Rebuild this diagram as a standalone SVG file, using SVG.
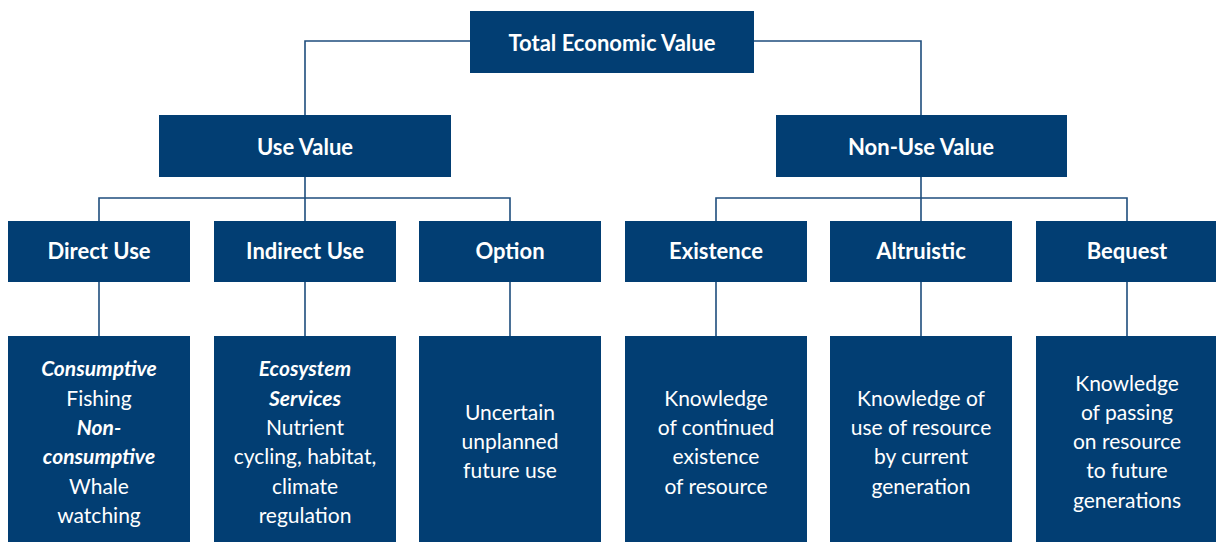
<svg xmlns="http://www.w3.org/2000/svg" width="1216" height="542" viewBox="0 0 1216 542">
<style>
.box{fill:#023e73}
.t{font-family:Lato,"Open Sans",sans-serif;fill:#fff;text-anchor:middle}
.h{font-size:22px;font-weight:bold}
.b{font-size:21px}
.bi{font-weight:bold;font-style:italic}
.c{fill:none;stroke:#1f4e7d;stroke-width:1.6}
</style>
<rect width="1216" height="542" fill="#fff"/>
<g id="connectors" class="c">
<path d="M470 41H305V115"/>
<path d="M754 41H921V115"/>
<path d="M305 177V221M99 221V198H510V221"/>
<path d="M921 177V221M716 221V198H1127V221"/>
<path d="M99 282V336M305 282V336M510 282V336M716 282V336M921 282V336M1127 282V336"/>
</g>
<g id="total"><rect class="box" x="470" y="11" width="284" height="62"/><text class="t h" x="612" y="51">Total Economic Value</text></g>
<g id="use"><rect class="box" x="159" y="115" width="292" height="62"/><text class="t h" x="305" y="155">Use Value</text></g>
<g id="nonuse"><rect class="box" x="776" y="115" width="291" height="62"/><text class="t h" x="921" y="155">Non-Use Value</text></g>
<g id="direct"><rect class="box" x="8" y="221" width="182" height="61"/><text class="t h" x="99" y="259">Direct Use</text></g>
<g id="indirect"><rect class="box" x="214" y="221" width="182" height="61"/><text class="t h" x="305" y="259">Indirect Use</text></g>
<g id="option"><rect class="box" x="419" y="221" width="182" height="61"/><text class="t h" x="510" y="259">Option</text></g>
<g id="existence"><rect class="box" x="625" y="221" width="182" height="61"/><text class="t h" x="716" y="259">Existence</text></g>
<g id="altruistic"><rect class="box" x="830" y="221" width="182" height="61"/><text class="t h" x="921" y="259">Altruistic</text></g>
<g id="bequest"><rect class="box" x="1036" y="221" width="182" height="61"/><text class="t h" x="1127" y="259">Bequest</text></g>
<g id="direct-desc"><rect class="box" x="8" y="336" width="182" height="206"/>
<text class="t b" x="99"><tspan class="bi" x="99" y="376">Consumptive</tspan><tspan x="99" y="406">Fishing</tspan><tspan class="bi" x="99" y="435">Non-</tspan><tspan class="bi" x="99" y="464">consumptive</tspan><tspan x="99" y="494">Whale</tspan><tspan x="99" y="523">watching</tspan></text></g>
<g id="indirect-desc"><rect class="box" x="214" y="336" width="182" height="206"/>
<text class="t b" x="305"><tspan class="bi" x="305" y="376">Ecosystem</tspan><tspan class="bi" x="305" y="406">Services</tspan><tspan x="305" y="435">Nutrient</tspan><tspan x="305" y="464">cycling, habitat,</tspan><tspan x="305" y="494">climate</tspan><tspan x="305" y="523">regulation</tspan></text></g>
<g id="option-desc"><rect class="box" x="419" y="336" width="182" height="206"/>
<text class="t b" x="510"><tspan x="510" y="420">Uncertain</tspan><tspan x="510" y="449">unplanned</tspan><tspan x="510" y="478">future use</tspan></text></g>
<g id="existence-desc"><rect class="box" x="625" y="336" width="182" height="206"/>
<text class="t b" x="716"><tspan x="716" y="406">Knowledge</tspan><tspan x="716" y="435">of continued</tspan><tspan x="716" y="464">existence</tspan><tspan x="716" y="494">of resource</tspan></text></g>
<g id="altruistic-desc"><rect class="box" x="830" y="336" width="182" height="206"/>
<text class="t b" x="921"><tspan x="921" y="406">Knowledge of</tspan><tspan x="921" y="435">use of resource</tspan><tspan x="921" y="464">by current</tspan><tspan x="921" y="494">generation</tspan></text></g>
<g id="bequest-desc"><rect class="box" x="1036" y="336" width="182" height="206"/>
<text class="t b" x="1127"><tspan x="1127" y="391">Knowledge</tspan><tspan x="1127" y="420">of passing</tspan><tspan x="1127" y="449">on resource</tspan><tspan x="1127" y="478">to future</tspan><tspan x="1127" y="508">generations</tspan></text></g>
</svg>
